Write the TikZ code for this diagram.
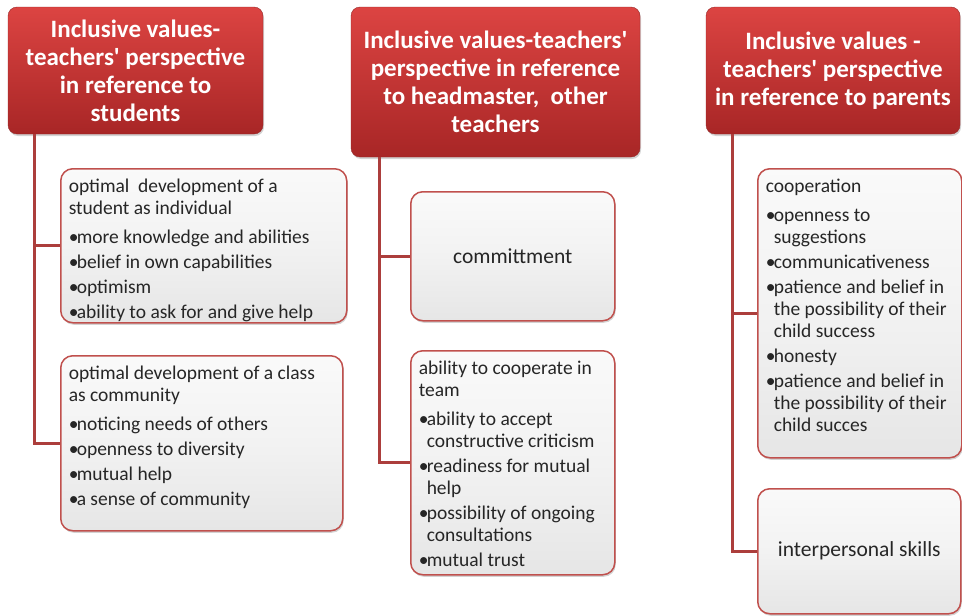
\documentclass[tikz,border=0pt]{standalone}
\usepackage{fontspec}
\setmainfont{Carlito}
\usepackage{xcolor}
\usetikzlibrary{positioning, shadows}

\definecolor{hdtop}{RGB}{220,68,66}
\definecolor{hdbot}{RGB}{168,38,38}
\definecolor{hdedge}{RGB}{150,40,40}
\definecolor{leafedge}{RGB}{192,80,77}
\definecolor{linkred}{RGB}{172,62,60}
\definecolor{leaffill}{RGB}{242,242,242}

\newcommand{\bul}{\makebox[8pt][l]{\textbullet}}
\newcommand{\cont}{\hspace*{8pt}}
\newcommand{\apos}{\textquotesingle}
\newcommand{\leaftext}[3]{\parbox[c][#2][t]{#1}{\raggedright\vspace*{8pt}\strut #3}}

\tikzset{
  header/.style={rounded corners=9pt, draw=hdedge, top color=hdtop, bottom color=hdbot,
    text=white, font=\fontsize{25}{28}\selectfont\bfseries, align=center, inner sep=0pt,
    drop shadow={shadow xshift=1pt, shadow yshift=-2pt, opacity=0.35}},
  leaf/.style={rounded corners=12pt, draw=leafedge, line width=1.5pt, top color=leaffill!40!white,
    bottom color=leaffill!95!black, middle color=leaffill, inner xsep=8pt, inner ysep=0pt,
    text=black!85, font=\fontsize{19.5}{22}\selectfont,
    drop shadow={shadow xshift=1pt, shadow yshift=-2pt, opacity=0.35}},
  leafc/.style={leaf, align=center, inner sep=0pt, font=\fontsize{21.5}{24}\selectfont},
  link/.style={draw=linkred, line width=3.2pt}
}

\begin{document}
\begin{tikzpicture}[x=1pt, y=-1pt]
  \useasboundingbox (0,0) rectangle (962,616);

  % headers
  \node[header, minimum width=255pt, minimum height=127pt] (stu) at (135.5,70.5)
    {Inclusive values-\\teachers\apos\ perspective\\in reference to\\students};
  \node[header, minimum width=289pt, minimum height=150pt] (head) at (495.5,82)
    {Inclusive values-teachers\apos\\perspective in reference\\to headmaster,~ other\\teachers};
  \node[header, minimum width=254pt, minimum height=127pt] (par) at (833,70.5)
    {Inclusive values -\\teachers\apos\ perspective\\in reference to parents};

  % students
  \node[leaf, anchor=north west] (stuA) at (60,168)
    {\leaftext{270pt}{154pt}{optimal~ development of a\\student as individual\\[7pt]
     \bul more knowledge and abilities\\[3pt]\bul belief in own capabilities\\[3pt]
     \bul optimism\\[3pt]\bul ability to ask for and give help}};
  \node[leaf, anchor=north west] (stuB) at (60,355)
    {\leaftext{266pt}{175pt}{optimal development of a class\\as community\\[7pt]
     \bul noticing needs of others\\[3pt]\bul openness to diversity\\[3pt]
     \bul mutual help\\[3pt]\bul a sense of community}};

  % headmaster, other teachers
  \node[leafc, anchor=north west, minimum width=204pt, minimum height=129pt] (headA) at (410,191)
    {committment};
  \node[leaf, anchor=north west] (headB) at (410,350)
    {\leaftext{188pt}{224pt}{ability to cooperate in\\team\\[7pt]
     \bul ability to accept\\\cont constructive criticism\\[3pt]
     \bul readiness for mutual\\\cont help\\[3pt]
     \bul possibility of ongoing\\\cont consultations\\[3pt]
     \bul mutual trust}};

  % parents
  \node[leaf, anchor=north west] (parA) at (757,168)
    {\leaftext{188pt}{289pt}{cooperation\\[7pt]
     \bul openness to\\\cont suggestions\\[3pt]
     \bul communicativeness\\[3pt]
     \bul patience and belief in\\\cont the possibility of their\\\cont child success\\[3pt]
     \bul honesty\\[3pt]
     \bul patience and belief in\\\cont the possibility of their\\\cont child succes}};
  \node[leafc, anchor=north west, minimum width=203pt, minimum height=125pt] (parB) at (757,488)
    {interpersonal skills};

  % connectors
  \draw[link] ([xshift=27pt]stu.south west) |- (stuA.west);
  \draw[link] ([xshift=27pt]stu.south west) |- (stuB.west);
  \draw[link] ([xshift=29pt]head.south west) |- (headA.west);
  \draw[link] ([xshift=29pt]head.south west) |- (headB.west);
  \draw[link] ([xshift=27pt]par.south west) |- (parA.west);
  \draw[link] ([xshift=27pt]par.south west) |- (parB.west);
\end{tikzpicture}
\end{document}
